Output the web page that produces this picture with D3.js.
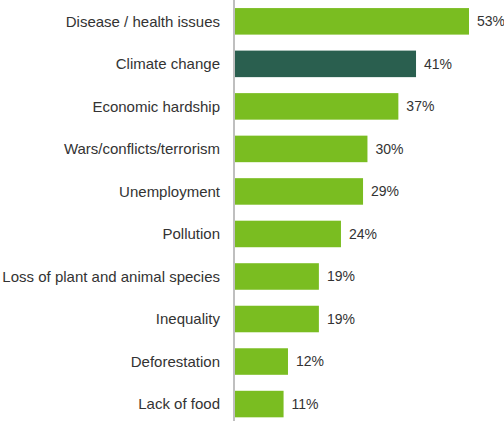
<!DOCTYPE html>
<html><head><meta charset="utf-8">
<script src="https://cdn.jsdelivr.net/npm/d3@7"></script>
<style>body{margin:0;background:#fff}svg{display:block}</style>
</head><body>
<svg id="c" width="504" height="421"></svg>
<script>
const categories = ["Disease / health issues","Climate change","Economic hardship","Wars/conflicts/terrorism","Unemployment","Pollution","Loss of plant and animal species","Inequality","Deforestation","Lack of food"];
const values = [53,41,37,30,29,24,19,19,12,11];
const highlight = ["Climate change"];

const svg = d3.select("#c");
const x0 = 235;
const x = d3.scaleLinear().domain([0,53]).range([x0, 469]);
const y = d3.scaleBand().domain(categories).range([0,425.4]).paddingInner(0.376).paddingOuter(0.19);

const data = categories.map((c,i)=>({c, v: values[i]}));

svg.selectAll("rect.bar").data(data).join("rect")
  .attr("class","bar")
  .attr("x", x(0))
  .attr("y", d=>y(d.c))
  .attr("width", d=>x(d.v)-x(0))
  .attr("height", y.bandwidth())
  .attr("fill", d=>highlight.includes(d.c) ? "#2a5f4f" : "#7abd21");

svg.append("line").attr("x1",234).attr("x2",234).attr("y1",0).attr("y2",421)
  .attr("stroke","#aaaaaa").attr("stroke-width",1.5);

svg.selectAll("text.cat").data(data).join("text")
  .attr("class","cat")
  .attr("x", 220)
  .attr("y", d=>y(d.c)+y.bandwidth()/2)
  .attr("dy","0.35em")
  .attr("text-anchor","end")
  .attr("font-family","Liberation Sans, Arial, sans-serif")
  .attr("font-size",15)
  .attr("fill","#333")
  .text(d=>d.c);

svg.selectAll("text.val").data(data).join("text")
  .attr("class","val")
  .attr("x", d=>x(d.v)+8)
  .attr("y", d=>y(d.c)+y.bandwidth()/2)
  .attr("dy","0.35em")
  .attr("font-family","Liberation Sans, Arial, sans-serif")
  .attr("font-size",14)
  .attr("fill","#333")
  .text(d=>d.v+"%");
</script>
</body></html>
